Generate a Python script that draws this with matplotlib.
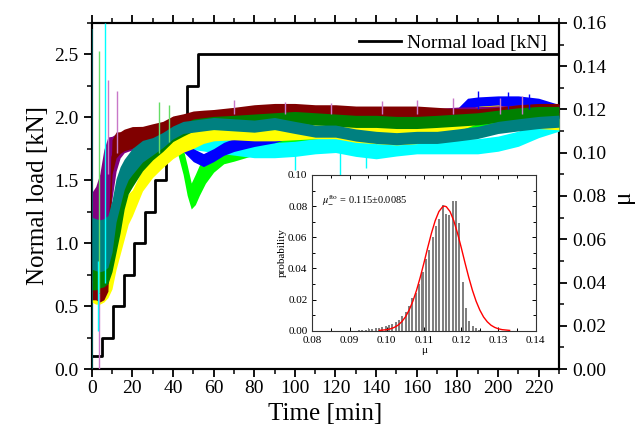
import matplotlib
matplotlib.use("Agg")
import matplotlib.pyplot as plt
from matplotlib.ticker import MultipleLocator

plt.rcParams['font.family'] = ['Liberation Serif', 'DejaVu Serif']
plt.rcParams['mathtext.fontset'] = 'stix'

# ---------------- data ----------------
# Normal load steps [kN]
load_t = [0, 5.2, 10.5, 15.8, 21.0, 26.2, 31.3, 36.6, 41.6, 46.8, 52.1, 230]
load_kn = [0.1, 0.25, 0.5, 0.75, 1.0, 1.25, 1.5, 1.75, 2.0, 2.25, 2.5, 2.5]

# common time grid [min]
t_full = [0, 2, 4, 6, 8, 10, 12, 14, 16, 18, 20, 25, 30, 35, 40, 45, 50, 55, 60,
          70, 80, 90, 100, 110, 120, 130, 140, 150, 160, 170, 180, 190, 200, 210, 220, 230]

teal_mu = [0.0582, 0.0575, 0.0570, 0.0575, 0.0590, 0.0660, 0.0780, 0.0845, 0.0900, 0.0935,
           0.0960, 0.1007, 0.1030, 0.1059, 0.1094, 0.1117, 0.1123, 0.1129, 0.1135,
           0.1129, 0.1123, 0.1135, 0.1117, 0.1100, 0.1100, 0.1082, 0.1071, 0.1065, 0.1071,
           0.1071, 0.1082, 0.1094, 0.1117, 0.1129, 0.1140, 0.1146]
teal_hw = [0.012, 0.012, 0.012, 0.012, 0.012, 0.012, 0.010, 0.009, 0.007, 0.006,
           0.006, 0.005, 0.004, 0.0035, 0.003, 0.0028, 0.0028, 0.0028, 0.0028,
           0.0028, 0.0028, 0.0028, 0.0028, 0.0028, 0.0028, 0.0028, 0.0028, 0.0028, 0.0028,
           0.0028, 0.0028, 0.0028, 0.0028, 0.0028, 0.0028, 0.0028]

darkred_mu = [0.0360, 0.0360, 0.0350, 0.0360, 0.0400, 0.0980, 0.1036, 0.1047, 0.1059, 0.1065,
              0.1071, 0.1082, 0.1094, 0.1105, 0.1135, 0.1150, 0.1163, 0.1167, 0.1170,
              0.1180, 0.1192, 0.1198, 0.1198, 0.1192, 0.1192, 0.1186, 0.1186, 0.1186, 0.1186,
              0.1180, 0.1174, 0.1174, 0.1180, 0.1192, 0.1198, 0.1198]
darkred_hw = [0.004, 0.004, 0.004, 0.004, 0.004, 0.008, 0.006, 0.005, 0.005, 0.005,
              0.005, 0.004, 0.004, 0.004, 0.0035, 0.003, 0.003, 0.003, 0.003,
              0.003, 0.003, 0.003, 0.003, 0.003, 0.003, 0.003, 0.003, 0.003, 0.003,
              0.003, 0.003, 0.003, 0.003, 0.003, 0.003, 0.003]

purple_mu = [0.0640, 0.0669, 0.0727, 0.0815, 0.0873, 0.0931, 0.1001, 0.1036, 0.1050, 0.1057,
             0.1063, 0.1074, 0.1086, 0.1097, 0.1127, 0.1142, 0.1155, 0.1159, 0.1162,
             0.1172, 0.1184, 0.1190, 0.1190, 0.1184, 0.1184, 0.1178, 0.1178, 0.1178, 0.1178,
             0.1175, 0.1181, 0.1183, 0.1187, 0.1190, 0.1192, 0.1192]
purple_hw = [0.0175, 0.0175, 0.0175, 0.020, 0.020, 0.0145, 0.0087, 0.006, 0.005, 0.005,
             0.005, 0.004, 0.004, 0.004, 0.004, 0.003, 0.003, 0.003, 0.003,
             0.003, 0.003, 0.003, 0.003, 0.003, 0.003, 0.003, 0.003, 0.003, 0.003,
             0.003, 0.003, 0.003, 0.003, 0.003, 0.003, 0.003]

green_mu = [0.0436, 0.0436, 0.0445, 0.0450, 0.0465, 0.0550, 0.0660, 0.0750, 0.0840, 0.0880,
            0.0902, 0.0966, 0.1007, 0.1036, 0.1082, 0.1105, 0.1128, 0.1134, 0.1140,
            0.1145, 0.1151, 0.1157, 0.1163, 0.1157, 0.1151, 0.1145, 0.1145, 0.1140, 0.1140,
            0.1145, 0.1151, 0.1157, 0.1169, 0.1180, 0.1186, 0.1186]
green_hw = [0.007, 0.007, 0.007, 0.007, 0.007, 0.010, 0.012, 0.012, 0.010, 0.007,
            0.006, 0.005, 0.004, 0.003, 0.003, 0.0028, 0.0028, 0.0028, 0.0028,
            0.0028, 0.0028, 0.0028, 0.0028, 0.0028, 0.0028, 0.0028, 0.0028, 0.0028, 0.0028,
            0.0028, 0.0028, 0.0028, 0.0028, 0.0028, 0.0028, 0.0028]

yellow_mu = [0.0360, 0.0350, 0.0350, 0.0360, 0.0380, 0.0450, 0.0550, 0.0620, 0.0680, 0.0740,
             0.0768, 0.0873, 0.0931, 0.0977, 0.1018, 0.1047, 0.1065, 0.1088, 0.1100,
             0.1105, 0.1100, 0.1100, 0.1100, 0.1105, 0.1105, 0.1088, 0.1082, 0.1076, 0.1082,
             0.1105, 0.1140, 0.1175, 0.1181, 0.1164, 0.1152, 0.1146]
yellow_hw = [0.005, 0.005, 0.005, 0.005, 0.005, 0.008, 0.009, 0.009, 0.008, 0.007,
             0.006, 0.005, 0.0045, 0.0045, 0.0045, 0.0045, 0.0045, 0.0045, 0.0045,
             0.0045, 0.0045, 0.0045, 0.004, 0.004, 0.004, 0.004, 0.004, 0.004, 0.004,
             0.004, 0.004, 0.004, 0.004, 0.004, 0.004, 0.004]

lime_t = [38, 42, 45, 47, 49, 51, 53, 56, 60, 65, 70, 80, 90, 100, 110, 120, 130,
          140, 150, 160, 170, 180, 190, 200, 210, 220, 230]
lime_mu = [0.1076, 0.1047, 0.0960, 0.0873, 0.0800, 0.0830, 0.0873, 0.0919, 0.0960, 0.0989,
           0.1001, 0.1024, 0.1041, 0.1047, 0.1059, 0.1059, 0.1047, 0.1059, 0.1076, 0.1082,
           0.1088, 0.1105, 0.1123, 0.1135, 0.1146, 0.1152, 0.1152]
lime_hw = [0.004, 0.004, 0.006, 0.007, 0.006, 0.007, 0.007, 0.006, 0.005, 0.004,
           0.004, 0.0035, 0.0035, 0.0035, 0.0035, 0.0035, 0.0035, 0.0035, 0.0035, 0.0035,
           0.0035, 0.0035, 0.0035, 0.0035, 0.0035, 0.0035, 0.0035]

cyan_t = [40, 45, 50, 60, 70, 80, 90, 100, 110, 120, 130, 140, 150, 160, 170, 180,
          190, 200, 210, 220, 230]
cyan_mu = [0.1076, 0.1059, 0.1050, 0.1036, 0.1024, 0.1012, 0.1012, 0.1018, 0.1030, 0.1036,
           0.1018, 0.1007, 0.1020, 0.1030, 0.1030, 0.1030, 0.1030, 0.1042, 0.1065, 0.1105,
           0.1135]
cyan_hw = [0.0035] * len(cyan_t)

blue_t = [45, 50, 55, 60, 65, 70, 80, 90, 100, 110, 120, 130, 140, 150, 160, 170,
          180, 185, 190, 200, 210, 220, 230]
blue_mu = [0.1036, 0.0989, 0.0966, 0.0989, 0.1018, 0.1036, 0.1059, 0.1076, 0.1105, 0.1117,
           0.1129, 0.1140, 0.1146, 0.1152, 0.1158, 0.1164, 0.1175, 0.1222, 0.1228, 0.1233,
           0.1233, 0.1222, 0.1193]
blue_hw = [0.003] * len(blue_t)

# isolated spikes (time, low, high) per colour
orchid_spk_t = [3.7, 8.0, 12.5, 70, 95, 118, 143, 160, 178, 201, 212]
orchid_spk_lo = [0.0, 0.090, 0.100, 0.118, 0.118, 0.118, 0.118, 0.118, 0.118, 0.118, 0.118]
orchid_spk_hi = [0.035, 0.1338, 0.1286, 0.1245, 0.1233, 0.1228, 0.1239, 0.1245, 0.1251, 0.1251, 0.1263]
lime_spk_t = [3.6, 33, 38]
lime_spk_lo = [0.035, 0.100, 0.105]
lime_spk_hi = [0.1472, 0.1233, 0.1222]
cyan_spk_t = [3.0, 6.6, 100, 122, 135]
cyan_spk_lo = [0.0175, 0.040, 0.092, 0.0884, 0.093]
cyan_spk_hi = [0.050, 0.160, 0.101, 0.102, 0.100]
teal_spk_t = [0.3]
teal_spk_lo = [0.0]
teal_spk_hi = [0.157]
blue_spk_t = [190, 205, 215]
blue_spk_lo = [0.120, 0.120, 0.120]
blue_spk_hi = [0.1286, 0.1280, 0.1270]

# inset histogram
hist_mu = [0.0925, 0.0934, 0.0943, 0.0952, 0.0961, 0.0970, 0.0979, 0.0988, 0.0997, 0.1006,
           0.1015, 0.1024, 0.1033, 0.1042, 0.1051, 0.1060, 0.1069, 0.1078, 0.1087, 0.1096,
           0.1105, 0.1114, 0.1123, 0.1132, 0.1141, 0.1150, 0.1159, 0.1168, 0.1177, 0.1186,
           0.1195, 0.1204, 0.1213, 0.1222, 0.1231, 0.1240, 0.1249]
hist_p = [0.0003, 0.0004, 0.0006, 0.0008, 0.0011, 0.0015, 0.0019, 0.0024, 0.0030, 0.0037,
          0.0045, 0.0056, 0.0070, 0.0092, 0.0120, 0.0160, 0.0210, 0.0240, 0.0300, 0.0380,
          0.0460, 0.0520, 0.0600, 0.0670, 0.0720, 0.0805, 0.0750, 0.0740, 0.0835, 0.0830,
          0.0690, 0.0310, 0.0146, 0.0060, 0.0030, 0.0015, 0.0006]
fit_mu = [0.098, 0.100, 0.101, 0.102, 0.103, 0.104, 0.105, 0.106, 0.107, 0.108, 0.109,
          0.110, 0.111, 0.112, 0.113, 0.114, 0.115, 0.1155, 0.116, 0.117, 0.118, 0.119,
          0.120, 0.121, 0.122, 0.123, 0.124, 0.125, 0.126, 0.127, 0.128, 0.129, 0.130,
          0.131, 0.133]
fit_p = [0.00018, 0.00066, 0.0012, 0.0021, 0.0035, 0.0057, 0.0088, 0.0132, 0.0189, 0.0260,
         0.0344, 0.0437, 0.0534, 0.0626, 0.0706, 0.0765, 0.0796, 0.0800, 0.0796, 0.0765,
         0.0706, 0.0626, 0.0534, 0.0437, 0.0344, 0.0260, 0.0189, 0.0132, 0.0088, 0.0057,
         0.0035, 0.0021, 0.0012, 0.00066, 0.00018]

# ---------------- figure ----------------
fig = plt.figure(figsize=(6.42, 4.33), dpi=100)
ax = fig.add_axes([0.1428, 0.1478, 0.7279, 0.7991])
ax2 = ax.twinx()

ax.plot(load_t, load_kn, drawstyle='steps-post', color='black', lw=2.0,
        label='Normal load [kN]', zorder=1)

def band(t, c, hw, color, z):
    lo = [a - b for a, b in zip(c, hw)]
    hi = [a + b for a, b in zip(c, hw)]
    ax2.fill_between(t, lo, hi, color=color, lw=0, zorder=z)
    ax2.plot(t, c, color=color, lw=1.0, zorder=z)

band(lime_t, lime_mu, lime_hw, '#00FF00', 2)
band(cyan_t, cyan_mu, cyan_hw, '#00FFFF', 3)
band(blue_t, blue_mu, blue_hw, '#0000FF', 4)
band(t_full, yellow_mu, yellow_hw, '#FFFF00', 5)
band(t_full, purple_mu, purple_hw, '#800080', 6)
band(t_full, darkred_mu, darkred_hw, '#800000', 7)
band(t_full, green_mu, green_hw, '#008000', 8)
band(t_full, teal_mu, teal_hw, '#008080', 9)

ax2.vlines(orchid_spk_t, orchid_spk_lo, orchid_spk_hi, colors='#C878C8', lw=1.0, zorder=10)
ax2.vlines(lime_spk_t, lime_spk_lo, lime_spk_hi, colors='#66DD66', lw=1.0, zorder=10)
ax2.vlines(cyan_spk_t, cyan_spk_lo, cyan_spk_hi, colors='#00FFFF', lw=1.0, zorder=10)
ax2.vlines(teal_spk_t, teal_spk_lo, teal_spk_hi, colors='#006060', lw=1.2, zorder=10)
ax2.vlines(blue_spk_t, blue_spk_lo, blue_spk_hi, colors='#0000FF', lw=1.0, zorder=10)

ax.set_xlim(0, 230)
ax.set_ylim(0, 2.75)
ax2.set_ylim(0, 0.16)

ax.xaxis.set_major_locator(MultipleLocator(20))
ax.xaxis.set_minor_locator(MultipleLocator(10))
ax.yaxis.set_major_locator(MultipleLocator(0.5))
ax.yaxis.set_minor_locator(MultipleLocator(0.25))
ax2.yaxis.set_major_locator(MultipleLocator(0.02))
ax2.yaxis.set_minor_locator(MultipleLocator(0.01))
ax.yaxis.set_major_formatter(matplotlib.ticker.FormatStrFormatter('%.1f'))
ax2.yaxis.set_major_formatter(matplotlib.ticker.FormatStrFormatter('%.2f'))

for a in (ax, ax2):
    for s in a.spines.values():
        s.set_linewidth(1.5)
ax.tick_params(axis='both', which='major', direction='out', length=6, width=1.3,
               labelsize=14, top=True)
ax.tick_params(axis='both', which='minor', direction='out', length=3.5, width=1.1, top=True)
ax.tick_params(axis='x', pad=2)
ax2.tick_params(axis='y', which='major', direction='out', length=6, width=1.3, labelsize=14)
ax2.tick_params(axis='y', which='minor', direction='out', length=3.5, width=1.1)

ax.set_xlabel('Time [min]', fontsize=18, labelpad=4)
ax.set_ylabel('Normal load [kN]', fontsize=18, labelpad=4)
ax2.set_ylabel('μ', fontsize=18, labelpad=4)

leg = ax.legend(loc='upper right', frameon=False, fontsize=14, handlelength=2.2,
                borderaxespad=0.2, handletextpad=0.3)

# ---------------- inset ----------------
ins = fig.add_axes([0.4865, 0.2363, 0.3479, 0.3596])
ins.bar(hist_mu, hist_p, width=0.00055, color='#808080', zorder=2)
ins.plot(fit_mu, fit_p, color='red', lw=1.0, zorder=3)
ins.set_xlim(0.08, 0.14)
ins.set_ylim(0, 0.10)
ins.xaxis.set_major_locator(MultipleLocator(0.01))
ins.xaxis.set_minor_locator(MultipleLocator(0.005))
ins.yaxis.set_major_locator(MultipleLocator(0.02))
ins.yaxis.set_minor_locator(MultipleLocator(0.01))
ins.xaxis.set_major_formatter(matplotlib.ticker.FormatStrFormatter('%.2f'))
ins.yaxis.set_major_formatter(matplotlib.ticker.FormatStrFormatter('%.2f'))
ins.tick_params(which='both', direction='in', top=True, right=True, labelsize=8, width=0.7)
ins.tick_params(which='major', length=3)
ins.tick_params(which='minor', length=2)
for s in ins.spines.values():
    s.set_linewidth(0.8)
    s.set_color('#333333')
ins.set_xlabel('μ', fontsize=8, labelpad=1)
ins.set_ylabel('probability', fontsize=8, labelpad=1)
ins.text(0.0825, 0.082, r'$\mu_{-}^{\mathrm{fto}}$ = 0.115±0.0085', fontsize=7.5)

fig.savefig('out.png', dpi=100)
